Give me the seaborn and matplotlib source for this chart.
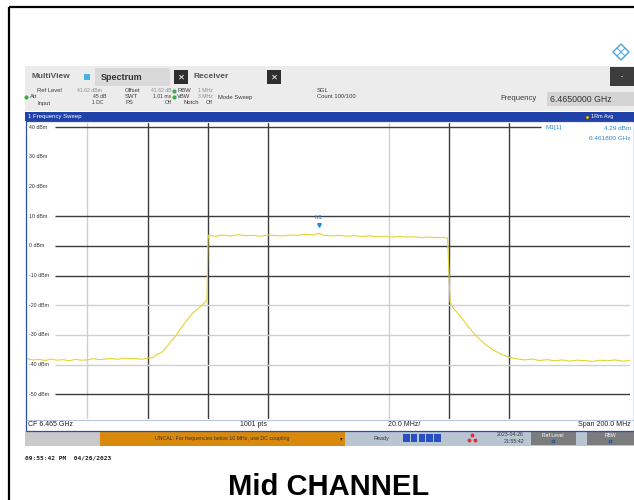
import matplotlib
matplotlib.use("Agg")
import matplotlib.pyplot as plt
import seaborn as sns
import pandas as pd
from matplotlib.patches import Rectangle, Polygon

# ---------------- data ----------------
freq_ghz = [
    6.365, 6.367, 6.369, 6.371, 6.373, 6.375, 6.377, 6.379, 6.381, 6.383,
    6.385, 6.387, 6.389, 6.391, 6.393, 6.395, 6.397, 6.399, 6.401, 6.403,
    6.405, 6.407, 6.4075, 6.410, 6.4124, 6.4144, 6.4157, 6.4177, 6.4201, 6.4224,
    6.4240, 6.4247, 6.4250,
    6.4252, 6.4275, 6.430, 6.4325, 6.435, 6.4375, 6.440, 6.4425, 6.445, 6.4475,
    6.450, 6.4525, 6.455, 6.4575, 6.460, 6.4618, 6.4635, 6.466, 6.4685, 6.471,
    6.4735, 6.476, 6.4785, 6.481, 6.4835, 6.486, 6.4885, 6.491, 6.4935, 6.496,
    6.4985, 6.501, 6.5035, 6.5045,
    6.5050, 6.5053, 6.5063, 6.5080, 6.5096, 6.5113, 6.5133, 6.5152, 6.5176, 6.5199,
    6.5225, 6.5252,
    6.5275, 6.530, 6.5325, 6.535, 6.5375, 6.540, 6.5425, 6.545, 6.5475, 6.550,
    6.5525, 6.555, 6.5575, 6.560, 6.5625, 6.565,
]
level_dbm = [
    -38.0, -38.4, -38.2, -38.6, -38.1, -38.5, -38.3, -38.7, -38.2, -38.5,
    -38.4, -38.0, -38.3, -38.1, -37.9, -38.2, -37.8, -38.0, -37.9, -38.2,
    -37.8, -37.6, -36.9, -35.6, -32.6, -30.2, -28.2, -25.5, -22.5, -20.5,
    -19.1, -18.1, 2.0,
    3.6, 3.3, 3.7, 3.4, 3.8, 3.5, 3.6, 3.3, 3.7, 3.5,
    3.4, 3.7, 3.6, 3.9, 3.7, 4.29, 3.6, 3.4, 3.6, 3.3,
    3.5, 3.2, 3.4, 3.1, 3.3, 3.0, 3.2, 3.0, 3.1, 2.8,
    3.0, 2.8, 2.9, 2.6,
    -10.0, -18.8, -20.8, -22.8, -24.8, -27.2, -29.5, -31.5, -33.6, -35.2,
    -36.6, -37.6,
    -38.0, -38.4, -38.1, -38.6, -38.3, -38.7, -38.4, -38.8, -38.5, -38.6,
    -38.9, -38.5, -38.7, -38.4, -38.8, -38.6,
]
y_grid_dbm = [40, 30, 20, 10, 0, -10, -20, -30, -40, -50]
y_tick_labels = ["40 dBm", "30 dBm", "20 dBm", "10 dBm", "0 dBm", "-10 dBm",
                 "-20 dBm", "-30 dBm", "-40 dBm", "-50 dBm"]
y_grid_style = ["dark", "none", "none", "dark", "dark", "dark",
                "light", "light", "light", "dark"]
x_grid_ghz = [6.385, 6.405, 6.425, 6.445, 6.485, 6.505, 6.525]
x_grid_style = ["light", "dark", "dark", "dark", "light", "dark", "dark"]
marker_freq = 6.4618
marker_level = 4.29
ref_level = 41.62
center_ghz = 6.465
span_mhz = 200.0

# ---------------- figure ----------------
sns.set_theme(style="white")
plt.rcParams['font.family'] = ['Liberation Sans', 'DejaVu Sans']

W, H = 634, 500
fig = plt.figure(figsize=(W / 100, H / 100), dpi=100)
fig.patch.set_facecolor("white")

bg = fig.add_axes([0, 0, 1, 1])
bg.set_xlim(0, W); bg.set_ylim(H, 0); bg.axis("off")

def rect(ax, x0, y0, x1, y1, fc, ec="none", lw=0, z=1):
    ax.add_patch(Rectangle((x0, y0), x1 - x0, y1 - y0, facecolor=fc,
                           edgecolor=ec, linewidth=lw, zorder=z))

# outer black border
bg.plot([9, 9], [7, 500], color="black", lw=1.6, solid_capstyle="butt")
bg.plot([9, 634], [7, 7], color="black", lw=1.6, solid_capstyle="butt")

# R&S style logo
bg.add_patch(Polygon([[621, 44], [629, 52], [621, 60], [613, 52]], closed=True,
                     fill=False, edgecolor="#4aa3e0", lw=1.0))
bg.plot([617, 625], [48, 56], color="#4aa3e0", lw=0.7)
bg.plot([617, 625], [56, 48], color="#4aa3e0", lw=0.7)

# header
rect(bg, 25, 66, 634, 111, "#ececec")
tc = "#3a3a3a"
gc = "#8a8a8a"
bg.text(31, 77, "MultiView", fontsize=6, color="#555555", va="center", fontweight="bold")
rect(bg, 84, 74, 90, 80, "#4ab0e8")
rect(bg, 95, 68, 170, 86, "#d9d9d9")
bg.text(101, 77, "Spectrum", fontsize=6.5, color="#333333", va="center", fontweight="bold")
for x0 in (174, 267):
    rect(bg, x0, 70, x0 + 14, 84, "#2e2e2e", z=2)
    bg.text(x0 + 7, 77, "✕", fontsize=6, color="white", ha="center", va="center", zorder=3,
            fontweight="bold", family=["DejaVu Sans"])
bg.text(193, 77, "Receiver", fontsize=6, color="#555555", va="center", fontweight="bold")
rect(bg, 610, 67, 634, 86, "#3c3c3c")
bg.text(622, 77, "-", fontsize=5, color="white", ha="center", va="center")

fs = 4.2
fv = 3.7
rows = [91, 97, 103]
bg.text(37, rows[0], "Ref Level", fontsize=fs, color=tc, va="center")
bg.text(77, rows[0], "41.62 dBm", fontsize=fv, color=gc, va="center")
bg.text(125, rows[0], "Offset", fontsize=fs, color=tc, va="center")
bg.text(151, rows[0], "41.62 dB", fontsize=fv, color=gc, va="center")
bg.text(177, rows[0], "RBW", fontsize=fs, color=tc, va="center")
bg.text(198, rows[0], "1 MHz", fontsize=fv, color=gc, va="center")
bg.text(317, rows[0], "SGL", fontsize=fs, color=tc, va="center")
for (xd, yd) in ((173.5, rows[0]), (173.5, rows[1]), (26, rows[1])):
    bg.plot(xd, yd, "o", color="#3cb043", ms=2.0)
bg.text(30, rows[1], "Att", fontsize=fs, color=tc, va="center")
bg.text(93, rows[1], "45 dB", fontsize=fv, color=tc, va="center")
bg.text(125, rows[1], "SWT", fontsize=fs, color=tc, va="center")
bg.text(153, rows[1], "1.01 ms", fontsize=fv, color=tc, va="center")
bg.text(177, rows[1], "VBW", fontsize=fs, color=tc, va="center")
bg.text(198, rows[1], "3 MHz", fontsize=fv, color=gc, va="center")
bg.text(218, rows[1], "Mode Sweep", fontsize=fs, color=tc, va="center")
bg.text(317, rows[1], "Count 100/100", fontsize=fs, color=tc, va="center")
bg.text(38, rows[2], "Input", fontsize=fs, color=tc, va="center")
bg.text(92, rows[2], "1 DC", fontsize=fv, color=tc, va="center")
bg.text(125, rows[2], "PS", fontsize=fs, color=tc, va="center")
bg.text(165, rows[2], "Off", fontsize=fv, color=tc, va="center")
bg.text(184, rows[2], "Notch", fontsize=fs, color=tc, va="center")
bg.text(206, rows[2], "Off", fontsize=fv, color=tc, va="center")
bg.text(500, 99, "Frequency", fontsize=5.5, color=tc, va="center")
rect(bg, 547, 92, 634, 106, "#d4d4d4")
bg.text(550, 99, f"{center_ghz:.7f} GHz", fontsize=6.3, color="#333333", va="center")

# blue title bar
rect(bg, 25, 112, 634, 121, "#1f41a8")
bg.text(28, 116.5, "1 Frequency Sweep", fontsize=4.3, color="white", va="center")
bg.plot(587, 116.5, "o", color="#f0d000", ms=2.2, mec="#806000", mew=0.3)
bg.text(591, 116.5, "1Rm Avg", fontsize=4.0, color="white", va="center")

# status / bottom bars
rect(bg, 25, 431, 100, 446, "#c9c9c9")
rect(bg, 100, 431, 345, 446, "#d98a0c")
rect(bg, 345, 431, 634, 446, "#b9c5d2")
bg.text(222, 438.5, "UNCAL: For frequencies below 10 MHz, use DC coupling", fontsize=3.8,
        color="#333333", ha="center", va="center")
bg.text(341, 438.5, "▾", fontsize=4, color="#333333", ha="center", va="center",
        family=["DejaVu Sans"])
bg.text(373, 438.5, "Ready", fontsize=4, color="#333333", va="center")
for i in range(5):
    rect(bg, 403 + i * 7.8, 434, 403 + i * 7.8 + 6.5, 442, "#2a4fc0")
for (xd, yd) in ((472, 435), (469, 440), (475, 440)):
    bg.plot(xd, yd, "o", color="#e03030", ms=1.8)
bg.text(524, 435, "2023-04-26", fontsize=3.8, color="#333333", ha="right", va="center")
bg.text(524, 441.5, "21:55:42", fontsize=3.8, color="#333333", ha="right", va="center")
rect(bg, 531, 432, 576, 445, "#7c7c7c")
bg.text(553, 435.5, "Ref Level", fontsize=3.6, color="white", ha="center", va="center")
bg.plot(553, 441, "o", color="#2a7de0", ms=2.2, mec="#0a2a60", mew=0.3)
rect(bg, 587, 432, 634, 445, "#7c7c7c")
bg.text(610, 435.5, "RBW", fontsize=3.6, color="white", ha="center", va="center")
bg.plot(610, 441, "o", color="#2a7de0", ms=2.2, mec="#0a2a60", mew=0.3)

bg.text(28, 425, f"CF {center_ghz:.3f} GHz", fontsize=5, color="#222222", va="center")
bg.text(254, 425, "1001 pts", fontsize=5, color="#222222", ha="center", va="center")
bg.text(404, 425, f"{span_mhz / 10:.1f} MHz/", fontsize=5, color="#222222", ha="center", va="center")
bg.text(631, 425, f"Span {span_mhz:.1f} MHz", fontsize=5, color="#222222", ha="right", va="center")

bg.text(25, 458, "09:55:42 PM  04/26/2023", fontsize=4.5, color="#222222", va="center",
        family=["DejaVu Sans Mono"], fontweight="bold")
bg.text(329, 487, "Mid CHANNEL", fontsize=21, fontweight="bold", color="black",
        ha="center", va="center")

# ---------------- data axes ----------------
x_left, x_right, y_top, y_bot = 27, 630, 122.5, 419.2
ax = fig.add_axes([x_left / W, 1 - y_bot / H, (x_right - x_left) / W, (y_bot - y_top) / H])
ax.set_facecolor("white")
fmin, fmax = center_ghz - span_mhz / 2000, center_ghz + span_mhz / 2000
ax.set_xlim(fmin, fmax)
ax.set_ylim(ref_level - 100, ref_level)
for s in ax.spines.values():
    s.set_visible(False)
ax.set_xticks([]); ax.set_yticks([])
ax.set_xlabel(""); ax.set_ylabel("")

colors = {"dark": "#3c3c3c", "light": "#cfcfcf"}
for xg, st in zip(x_grid_ghz, x_grid_style):
    ax.axvline(xg, color=colors[st], lw=1.0, zorder=1)
x_line_start = fmin + (55 - x_left) * (fmax - fmin) / (x_right - x_left)
for yg, lab, st in zip(y_grid_dbm, y_tick_labels, y_grid_style):
    if st != "none":
        xe = 6.5355 if yg == 40 else fmax
        ax.hlines(yg, x_line_start, xe, color=colors[st], lw=1.0, zorder=1)
    ax.text(fmin + 0.0006, yg, lab, fontsize=3.8, color="#333333", va="center", ha="left")

df = pd.DataFrame({"freq": freq_ghz, "level": level_dbm})
sns.lineplot(data=df, x="freq", y="level", ax=ax, color="#e2d52e", lw=0.8,
             estimator=None, sort=False, legend=False, zorder=3)
ax.set_xlabel(""); ax.set_ylabel("")

# marker
mc = "#2a8ad4"
ax.plot(marker_freq, marker_level + 2.8, marker="v", color=mc, ms=2.6, zorder=4)
ax.text(marker_freq, marker_level + 5.3, "M1", fontsize=4.2, color=mc, ha="center",
        va="center", zorder=4)

# frame around plot + status line
bg2 = fig.add_axes([0, 0, 1, 1], zorder=5)
bg2.set_xlim(0, W); bg2.set_ylim(H, 0); bg2.axis("off"); bg2.patch.set_alpha(0)
bg2.add_patch(Rectangle((26, 121), 608, 309.5, fill=False, edgecolor="#2a4db0", lw=0.9))
bg2.plot([26, 634], [419.5, 419.5], color="#9aa8d0", lw=0.5)
bg2.text(546, 128, "M1[1]", fontsize=4.6, color=mc, va="center")
bg2.text(631, 128, f"{marker_level:.2f} dBm", fontsize=4.6, color=mc, va="center", ha="right")
bg2.text(631, 139, f"{marker_freq:.6f} GHz", fontsize=4.6, color=mc, va="center", ha="right")

fig.savefig("out.png", dpi=100, facecolor="white")
